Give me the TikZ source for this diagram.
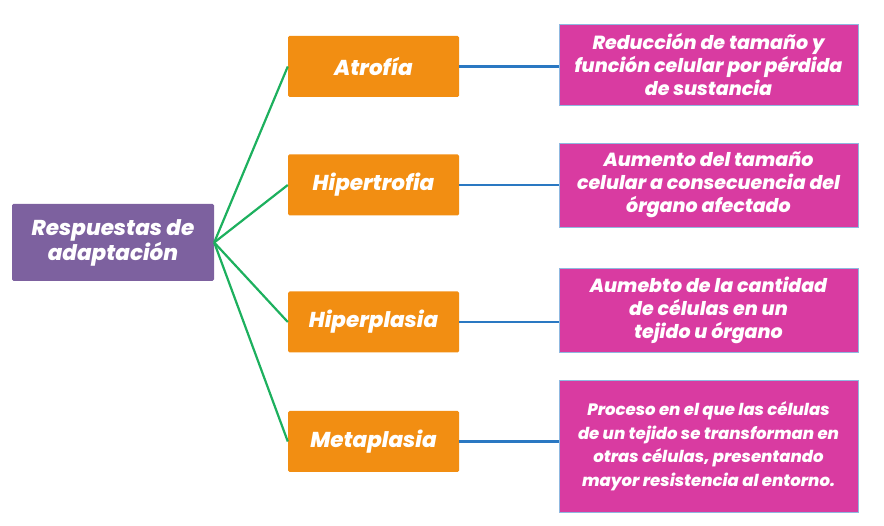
\documentclass[tikz,border=0pt]{standalone}
\usepackage{fontspec}
\IfFontExistsTF{Poppins ExtraBold Italic}{%
  \setmainfont{Poppins}[BoldItalicFont={Poppins ExtraBold Italic}]}{%
  \setmainfont{Poppins}[BoldItalicFeatures={FakeBold=1.5}]}
\definecolor{cpurple}{HTML}{7D619F}
\definecolor{corange}{HTML}{F28E12}
\definecolor{cpink}{HTML}{D93BA1}
\definecolor{cgreen}{HTML}{1DB05E}
\definecolor{cblue}{HTML}{2A78C2}
\definecolor{cedge}{HTML}{8FB8E0}
\tikzset{
  rootbox/.style={fill=cpurple, rounded corners=1.5pt, minimum width=202pt, minimum height=77pt, inner sep=0pt, text=white, align=center, font=\fontsize{21.5}{24}\selectfont\bfseries\itshape},
  typebox/.style={fill=corange, rounded corners=1.5pt, minimum width=171pt, minimum height=61pt, inner sep=0pt, text=white, align=center, font=\fontsize{21.5}{24}\selectfont\bfseries\itshape},
  descbox/.style={fill=cpink, draw=cedge, line width=0.7pt, minimum width=299pt, inner sep=0pt, text=white, align=center, font=\fontsize{19}{23}\selectfont\bfseries\itshape},
  smalldesc/.style={descbox, font=\fontsize{16.5}{23.5}\selectfont\bfseries\itshape},
  greenline/.style={draw=cgreen, line width=2.2pt},
  blueline/.style={draw=cblue, line width=2.2pt}
}
\begin{document}
\begin{tikzpicture}[x=1pt,y=-1pt]
\useasboundingbox (0,0) rectangle (884,526);
\node[rootbox] (root) at (113,242.5) {Respuestas de\\adaptación};
\node[typebox] (t1) at (373.5,66.5) {Atrofía};
\node[typebox] (t2) at (373.5,185) {Hipertrofia};
\node[typebox] (t3) at (373.5,322) {Hiperplasia};
\node[typebox] (t4) at (373.5,441.5) {Metaplasia};
\node[descbox, minimum height=81pt] (d1) at (708.5,64.5) {Reducción de tamaño y\\función celular por pérdida\\de sustancia};
\node[descbox, minimum height=84pt] (d2) at (708.5,185) {Aumento del tamaño\\celular a consecuencia del\\órgano afectado};
\node[descbox, minimum height=84pt] (d3) at (708.5,310) {Aumebto de la cantidad\\de células en un\\tejido u órgano};
\node[smalldesc, minimum height=132pt] (d4) at (708.5,446) {Proceso en el que las células\\de un tejido se transforman en\\otras células, presentando\\mayor resistencia al entorno.};
\foreach \t in {t1,t2,t3,t4}{
  \draw[greenline] (root.east) -- (\t.west);
}
\draw[blueline] (t1.east) -- (d1.west |- t1.east);
\draw[blueline] (t2.east) -- (d2.west |- t2.east);
\draw[blueline] (t3.east) -- (d3.west |- t3.east);
\draw[blueline] (t4.east) -- (d4.west |- t4.east);
\end{tikzpicture}
\end{document}
